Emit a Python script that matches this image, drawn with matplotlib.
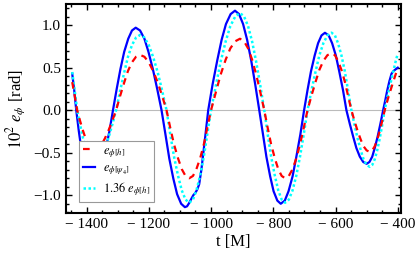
import matplotlib
matplotlib.use("Agg")
import matplotlib.pyplot as plt
from matplotlib.ticker import MultipleLocator

plt.rcParams['font.family'] = ['Liberation Serif', 'DejaVu Serif']
plt.rcParams['mathtext.fontset'] = 'stix'

# red dashed: e_phi[h]
t_h = [-1446, -1438, -1430,
       -1421, -1412, -1403, -1394, -1385, -1376,
       -1364, -1352, -1341, -1329, -1317, -1305,
       -1292, -1279, -1267, -1254, -1241, -1228,
       -1214, -1200, -1186, -1171, -1157, -1143,
       -1131, -1119, -1106, -1094, -1082, -1070,
       -1058, -1047, -1035, -1023, -1012, -1000,
       -984, -969, -953, -938, -922, -907,
       -894, -881, -868, -855, -842, -829,
       -818, -807, -795, -784, -773, -762,
       -750, -738, -726, -714, -702, -690,
       -677, -664, -652, -639, -626, -613,
       -602, -592, -581, -570, -560, -549,
       -539, -529, -519, -510, -500, -490,
       -482, -474, -466, -458, -450, -442,
       -435, -428, -421, -414, -407, -400]
e_h = [0.33, 0.17, 0.0,
       -0.122, -0.235, -0.332, -0.407, -0.454, -0.47,
       -0.454, -0.407, -0.332, -0.235, -0.122, 0.0,
       0.168, 0.325, 0.46, 0.563, 0.628, 0.65,
       0.628, 0.563, 0.46, 0.325, 0.168, 0.0,
       -0.207, -0.40, -0.566, -0.693, -0.773, -0.80,
       -0.773, -0.693, -0.566, -0.40, -0.207, 0.0,
       0.218, 0.42, 0.594, 0.727, 0.811, 0.84,
       0.811, 0.727, 0.594, 0.42, 0.218, 0.0,
       -0.207, -0.40, -0.566, -0.693, -0.773, -0.80,
       -0.773, -0.693, -0.566, -0.40, -0.207, 0.0,
       0.174, 0.335, 0.474, 0.58, 0.647, 0.67,
       0.647, 0.58, 0.474, 0.335, 0.174, 0.0,
       -0.127, -0.245, -0.346, -0.424, -0.473, -0.49,
       -0.473, -0.424, -0.346, -0.245, -0.127, 0.0,
       0.09, 0.18, 0.26, 0.34, 0.42, 0.49]

# blue solid: e_phi[psi4]
t_psi = [-1446, -1440, -1433,
         -1425, -1417, -1408, -1399, -1390, -1382,
         -1371, -1360, -1349, -1338, -1326, -1315,
         -1303, -1291, -1279, -1266, -1254, -1242,
         -1228, -1214, -1201, -1187, -1173, -1159,
         -1146, -1134, -1121, -1109, -1096, -1084,
         -1077, -1070, -1063, -1057, -1050, -1044, -1038, -1031, -1024, -1017, -1009,
         -995, -980, -966, -952, -937, -923,
         -910, -897, -884, -871, -858, -845,
         -833, -822, -810, -799, -787, -776,
         -763, -751, -738, -726, -713, -701,
         -690, -679, -667, -656, -645, -634,
         -622, -611, -599, -588, -576, -565,
         -554, -543, -533, -522, -511, -500,
         -491, -482, -474, -465, -456, -447,
         -440, -434, -427, -420, -414, -407, -400]
e_psi = [0.43, 0.25, 0.0,
         -0.24, -0.45, -0.60, -0.69, -0.735, -0.74,
         -0.72, -0.66, -0.57, -0.45, -0.24, 0.0,
         0.251, 0.485, 0.686, 0.84, 0.937, 0.97,
         0.937, 0.84, 0.686, 0.485, 0.251, 0.0,
         -0.295, -0.57, -0.806, -0.987, -1.10, -1.14,
         -1.13, -1.09, -1.04, -1.0, -0.97, -0.93, -0.87, -0.70, -0.48, -0.26, 0.0,
         0.303, 0.585, 0.827, 1.013, 1.13, 1.17,
         1.13, 1.013, 0.827, 0.585, 0.303, 0.0,
         -0.285, -0.55, -0.778, -0.953, -1.063, -1.10,
         -1.063, -0.953, -0.778, -0.55, -0.285, 0.0,
         0.236, 0.455, 0.643, 0.788, 0.879, 0.91,
         0.879, 0.788, 0.643, 0.455, 0.236, 0.0,
         -0.163, -0.315, -0.445, -0.546, -0.609, -0.63,
         -0.609, -0.546, -0.445, -0.315, -0.163, 0.0,
         0.12, 0.23, 0.34, 0.43, 0.46, 0.48, 0.50]

scale = 1.36

fig = plt.figure(figsize=(4.15, 2.58), dpi=100)
ax = fig.add_axes([0.159, 0.174, 0.807, 0.81])

ax.axhline(0, color='#bbbbbb', lw=0.8, zorder=1)
ax.plot(t_h, e_h, color='red', ls=(0, (3, 2.5)), lw=1.6, label=r'$e_{\phi[h]}$', zorder=3)
ax.plot(t_psi, e_psi, color='blue', lw=1.6, label=r'$e_{\phi[\psi_4]}$', zorder=2)
ax.plot(t_h, [scale * v for v in e_h], color='cyan', ls=(0, (1, 1)), lw=1.8,
        label=r'$1.36\ e_{\phi[h]}$', zorder=2)

ax.set_xlim(-1466, -390)
ax.set_ylim(-1.21, 1.247)
ax.xaxis.set_major_locator(MultipleLocator(200))
ax.xaxis.set_minor_locator(MultipleLocator(50))
ax.yaxis.set_major_locator(MultipleLocator(0.5))
ax.yaxis.set_minor_locator(MultipleLocator(0.1))
ax.yaxis.set_major_formatter(lambda v, p: f"{v:.1f}".replace('-', '\u2212'))
ax.xaxis.set_major_formatter(lambda v, p: f"{v:.0f}".replace('-', '\u2212 '))
ax.tick_params(which='both', direction='in', top=True, right=True, labelsize=11, width=1)
ax.tick_params(which='major', length=4)
ax.tick_params(which='minor', length=2)
for s in ax.spines.values():
    s.set_linewidth(1.5)

ax.set_xlabel('t [M]', fontsize=12, labelpad=2)
ax.set_ylabel(r'$10^2\ e_\phi$ [rad]', fontsize=12, labelpad=4)

leg = ax.legend(loc='lower left', bbox_to_anchor=(0.039, 0.053), borderaxespad=0,
                fontsize=9, fancybox=False, framealpha=1, edgecolor='#999999',
                handlelength=1.0, borderpad=0.3, labelspacing=0.25, handletextpad=0.6)
leg.get_frame().set_linewidth(0.8)

fig.savefig('out.png', dpi=100)
